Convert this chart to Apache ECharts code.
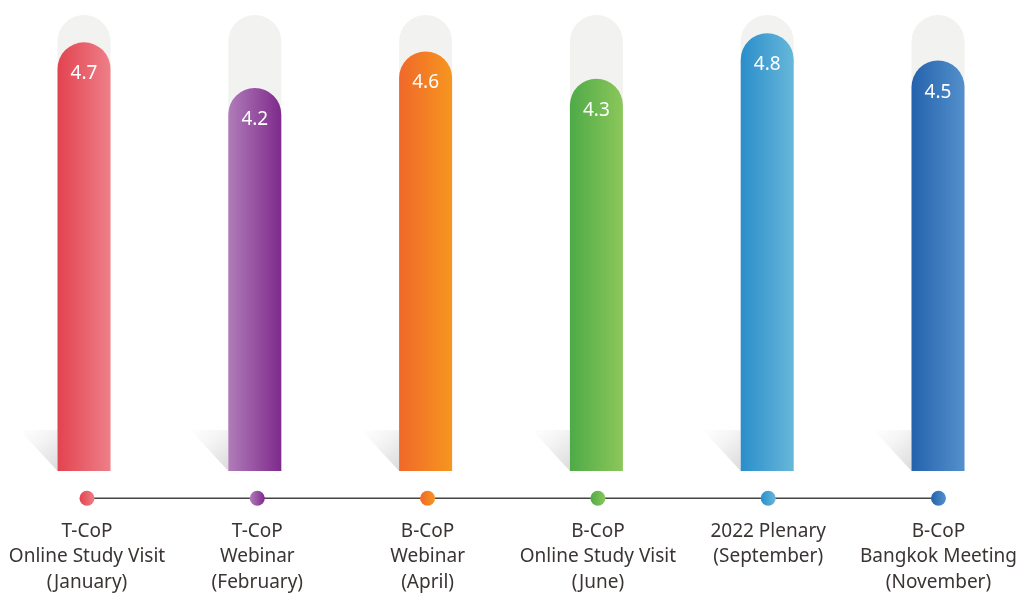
<!DOCTYPE html>
<html>
<head>
<meta charset="utf-8">
<script src="https://cdn.jsdelivr.net/npm/echarts@6/dist/echarts.min.js"></script>
<style>html,body{margin:0;padding:0;background:#fff}#c{width:1020px;height:595px}</style>
</head>
<body>
<div id="c"></div>
<script>
const categories = [
  'T-CoP\nOnline Study Visit\n(January)',
  'T-CoP\nWebinar\n(February)',
  'B-CoP\nWebinar\n(April)',
  'B-CoP\nOnline Study Visit\n(June)',
  '2022 Plenary\n(September)',
  'B-CoP\nBangkok Meeting\n(November)'
];
const values = [4.7, 4.2, 4.6, 4.3, 4.8, 4.5];
const trackMax = 5;
const colorsLeft  = ['#e2434f', '#b07cb9', '#f0682a', '#4eaa47', '#2a8ecb', '#2462ad'];
const colorsRight = ['#ee7f88', '#7e2a8b', '#f6961f', '#8cc75a', '#67b7d9', '#5490cc'];

const grad = (i) => new echarts.graphic.LinearGradient(0, 0, 1, 0, [
  {offset: 0, color: colorsLeft[i]}, {offset: 1, color: colorsRight[i]}
]);
const FONT = '"Noto Sans", "Open Sans", sans-serif';
const BW = 53;

const chart = echarts.init(document.getElementById('c'));
chart.setOption({
  animation: false,
  grid: [
    {left: 84, right: 82, top: 15, bottom: 124},
    {left: 87, right: 79, top: 492, height: 16}
  ],
  xAxis: [
    {type: 'category', gridIndex: 0, data: categories, boundaryGap: false,
     axisLine: {show: false}, axisTick: {show: false}, axisLabel: {show: false}, splitLine: {show: false}},
    {type: 'category', gridIndex: 1, data: categories, boundaryGap: false,
     axisLine: {show: false}, axisTick: {show: false}, splitLine: {show: false},
     axisLabel: {show: true, interval: 0, margin: 14, color: '#3a3433', fontSize: 19, lineHeight: 25.5, fontFamily: FONT, align: 'center'}}
  ],
  yAxis: [
    {type: 'value', gridIndex: 0, min: 0, max: trackMax, show: false},
    {type: 'value', gridIndex: 1, min: -1, max: 1, show: false}
  ],
  series: [
    {
      type: 'custom', xAxisIndex: 0, yAxisIndex: 0, silent: true, z: 1,
      renderItem: function (params, api) {
        const p = api.coord([api.value(0), 0]);
        const xl = p[0] - BW / 2;
        const yb = p[1];
        return {
          type: 'polygon',
          shape: {points: [[xl, yb], [xl, yb - 41], [xl - 38, yb - 41]]},
          style: {
            fill: new echarts.graphic.LinearGradient(1, 1, 0, 0, [
              {offset: 0, color: 'rgba(0,0,0,0.14)'},
              {offset: 0.6, color: 'rgba(0,0,0,0.04)'},
              {offset: 1, color: 'rgba(0,0,0,0.0)'}
            ])
          }
        };
      },
      data: values.map((v, i) => [i, v])
    },
    {
      type: 'bar', xAxisIndex: 0, yAxisIndex: 0, barWidth: BW, barGap: '-100%', silent: true, z: 2,
      itemStyle: {color: '#f2f2f0', borderRadius: [26.5, 26.5, 0, 0]},
      data: values.map(() => trackMax)
    },
    {
      type: 'bar', xAxisIndex: 0, yAxisIndex: 0, barWidth: BW, z: 3,
      data: values.map((v, i) => ({value: v, itemStyle: {color: grad(i), borderRadius: [26.5, 26.5, 0, 0]}})),
      label: {show: true, position: 'insideTop', distance: 22, color: '#ffffff', fontSize: 19, fontFamily: FONT,
              formatter: (p) => p.value.toFixed(1)}
    },
    {
      type: 'line', xAxisIndex: 1, yAxisIndex: 1, z: 4,
      lineStyle: {color: '#444444', width: 1.5},
      symbol: 'circle', symbolSize: 15,
      data: values.map((v, i) => ({value: 0, itemStyle: {color: grad(i)}}))
    }
  ]
});
</script>
</body>
</html>
